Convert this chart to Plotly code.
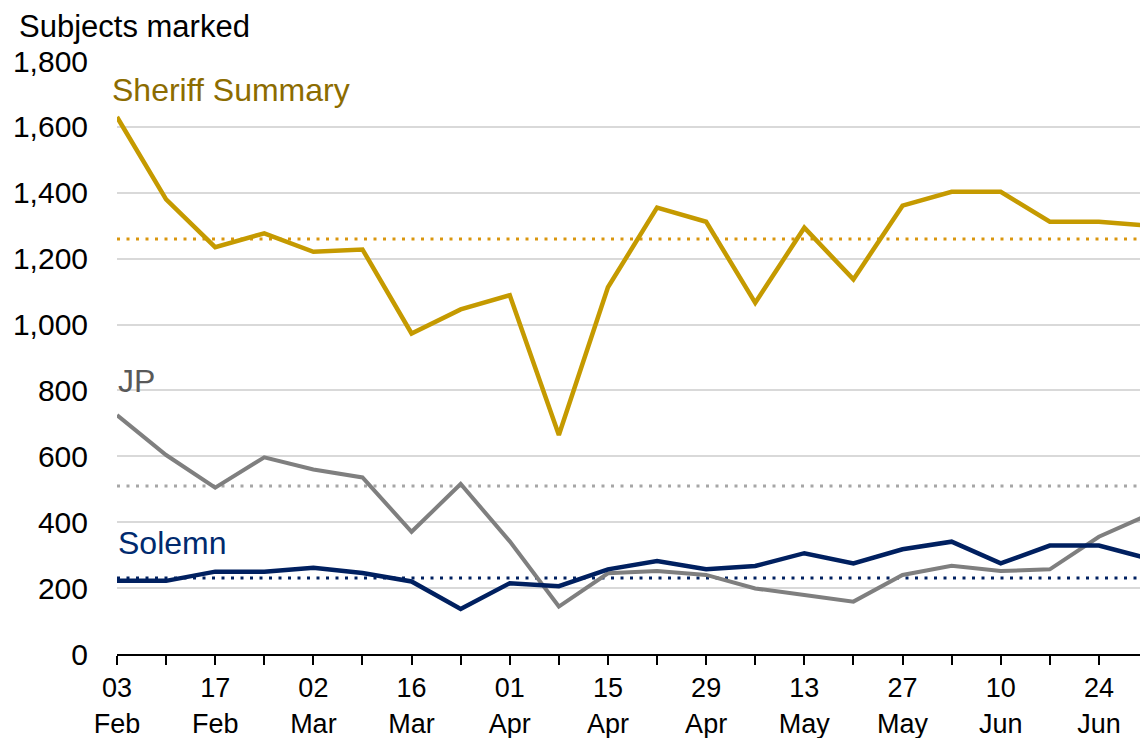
import plotly.graph_objects as go

weeks = ["03 Feb", "10 Feb", "17 Feb", "24 Feb", "02 Mar", "09 Mar", "16 Mar", "23 Mar",
         "01 Apr", "08 Apr", "15 Apr", "22 Apr", "29 Apr", "06 May", "13 May", "20 May",
         "27 May", "03 Jun", "10 Jun", "17 Jun", "24 Jun", "01 Jul"]
sheriff_summary = [1630, 1380, 1235, 1277, 1221, 1228, 973, 1046, 1089, 665, 1113, 1355,
                   1312, 1066, 1294, 1137, 1361, 1403, 1403, 1312, 1312, 1300]
jp = [725, 604, 505, 597, 560, 536, 371, 516, 342, 144, 245, 252, 240, 199, 179, 159,
      240, 268, 252, 257, 356, 422]
solemn = [222, 222, 250, 250, 262, 246, 220, 137, 215, 206, 257, 282, 257, 267, 306, 275,
          318, 341, 275, 329, 329, 290]
sheriff_avg = 1260
jp_avg = 510
solemn_avg = 231
y_ticks = [0, 200, 400, 600, 800, 1000, 1200, 1400, 1600, 1800]

tick_text = [w.replace(" ", "<br>") if i % 2 == 0 else "" for i, w in enumerate(weeks)]

GOLD = "#C59A00"
GOLD_TXT = "#8C6C00"
GOLD_AVG = "#D9960E"
GREY = "#7F7F7F"
GREY_TXT = "#595959"
GREY_AVG = "#A6A6A6"
NAVY = "#002060"
NAVY_TXT = "#002A6E"
FONT = "Liberation Sans, Arial, sans-serif"

fig = go.Figure()
dot = "3px,6.5px"
fig.add_trace(go.Scatter(x=weeks, y=[sheriff_avg] * len(weeks), mode="lines",
                         line=dict(color=GOLD_AVG, width=3, dash=dot), hoverinfo="skip"))
fig.add_trace(go.Scatter(x=weeks, y=[jp_avg] * len(weeks), mode="lines",
                         line=dict(color=GREY_AVG, width=3, dash=dot), hoverinfo="skip"))
fig.add_trace(go.Scatter(x=weeks, y=[solemn_avg] * len(weeks), mode="lines",
                         line=dict(color=NAVY, width=3, dash=dot), hoverinfo="skip"))
fig.add_trace(go.Scatter(x=weeks, y=sheriff_summary, mode="lines", name="Sheriff Summary",
                         line=dict(color=GOLD, width=4.5)))
fig.add_trace(go.Scatter(x=weeks, y=jp, mode="lines", name="JP",
                         line=dict(color=GREY, width=4)))
fig.add_trace(go.Scatter(x=weeks, y=solemn, mode="lines", name="Solemn",
                         line=dict(color=NAVY, width=4.5)))

# page has an 8px body margin: figure pixel = page pixel - 8
OFF = 8
W, H = 1148 - OFF, 738 - OFF
PL, PR, PT, PB = 117, 1148, 61, 654   # plot area edges in page pixels
L, R, T, B = PL - OFF, (W + OFF) - PR, PT - OFF, (H + OFF) - PB
pw, ph = PR - PL, PB - PT


def px_x(p):
    return (p - PL) / pw


def px_y(p):
    return (PB - p) / ph


# white label backgrounds (cover gridlines only)
for x0, x1, y0, y1 in [(112, 392, 58, 114), (117, 183, 360, 401), (117, 249, 518, 566)]:
    fig.add_shape(type="rect", xref="paper", yref="paper", x0=px_x(x0), x1=px_x(x1),
                  y0=px_y(y1), y1=px_y(y0), fillcolor="white", line=dict(width=0),
                  layer="between")

fig.add_annotation(text="Sheriff Summary", xref="paper", yref="paper", x=px_x(110), y=px_y(90),
                   xanchor="left", yanchor="middle", showarrow=False,
                   font=dict(family=FONT, size=32, color=GOLD_TXT))
fig.add_annotation(text="JP", xref="paper", yref="paper", x=px_x(116), y=px_y(381),
                   xanchor="left", yanchor="middle", showarrow=False,
                   font=dict(family=FONT, size=32, color=GREY_TXT))
fig.add_annotation(text="Solemn", xref="paper", yref="paper", x=px_x(116), y=px_y(543),
                   xanchor="left", yanchor="middle", showarrow=False,
                   font=dict(family=FONT, size=32, color=NAVY_TXT))
fig.add_annotation(text="Subjects marked", xref="paper", yref="paper", x=px_x(18), y=px_y(8),
                   xanchor="left", yanchor="top", showarrow=False, borderpad=0,
                   font=dict(family=FONT, size=31, color="#000000"))

fig.update_layout(
    width=W, height=H, margin=dict(l=L, r=R, t=T, b=B),
    paper_bgcolor="white", plot_bgcolor="white", showlegend=False,
    font=dict(family=FONT, size=28, color="#000000"),
)
fig.update_xaxes(type="category", range=[0, len(weeks) - 1], tickmode="array",
                 tickvals=weeks, ticktext=tick_text, ticks="outside", ticklen=9,
                 tickwidth=2, tickcolor="#000000", showline=True, linecolor="#000000",
                 linewidth=2, showgrid=False, zeroline=False, automargin=False,
                 tickfont=dict(family=FONT, size=27, color="#000000"))
fig.update_yaxes(range=[0, 1800], tickmode="array", tickvals=y_ticks, tickformat=",",
                 showgrid=True, gridcolor="#D9D9D9", gridwidth=1.5, zeroline=False,
                 showline=False, ticks="", ticklabelstandoff=28, automargin=False,
                 tickfont=dict(family=FONT, size=30, color="#000000"))

fig.write_html("out.html")
